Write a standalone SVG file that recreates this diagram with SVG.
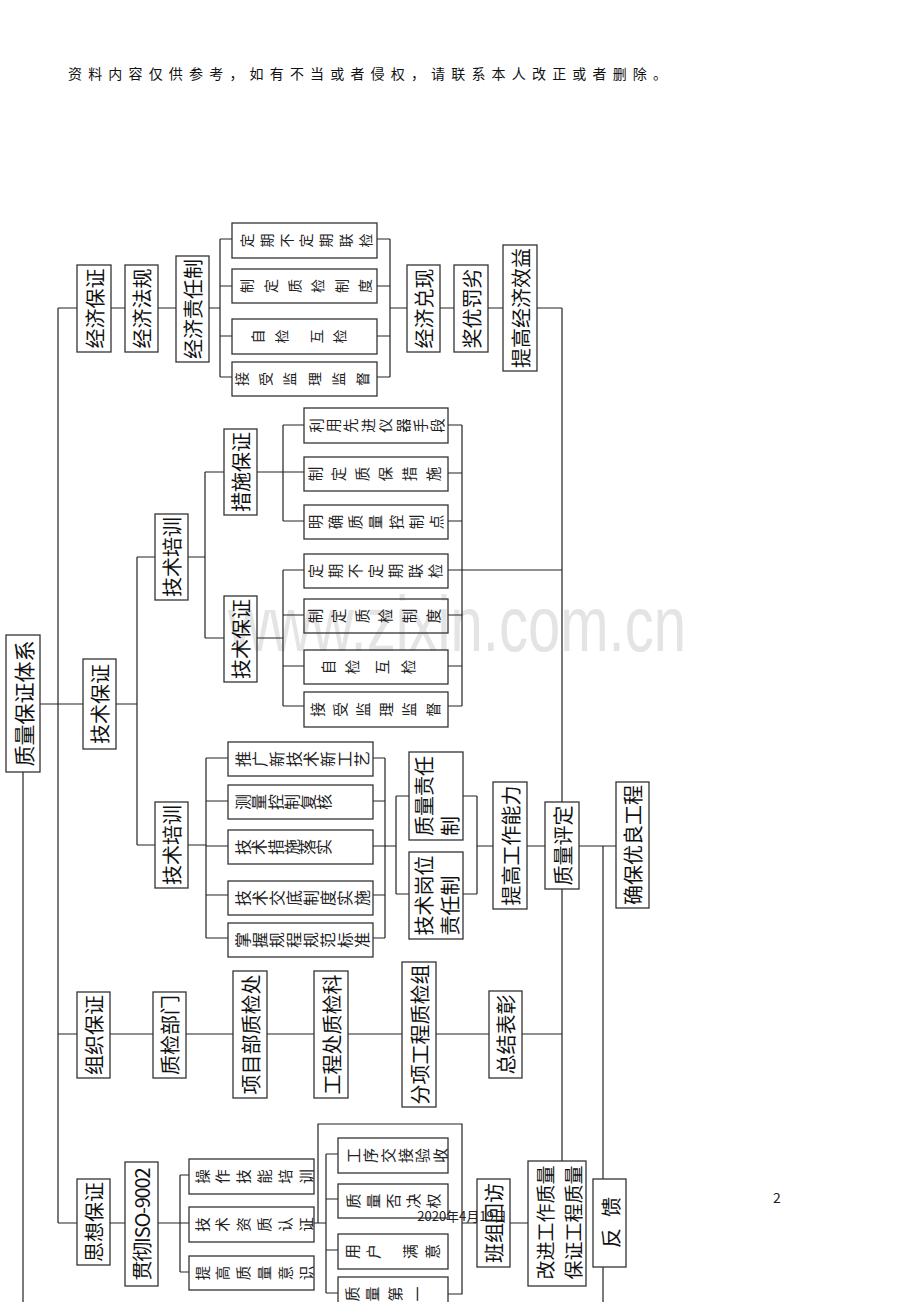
<svg xmlns="http://www.w3.org/2000/svg" width="920" height="1302" viewBox="0 0 920 1302">
<style>
.b{fill:none;stroke:#333;stroke-width:1.3}
.c{fill:none;stroke:#222;stroke-width:1.2}
.tv{font-family:"Noto Sans CJK SC",sans-serif;font-size:20px;fill:#111;text-anchor:middle;dominant-baseline:central}
.ts{font-family:"Noto Sans CJK SC",sans-serif;font-size:20px;fill:#111;text-anchor:start;dominant-baseline:central}
.tw{font-family:"Noto Sans CJK SC",sans-serif;font-size:14px;fill:#222}
.tw5{font-family:"Noto Sans CJK SC",sans-serif;font-size:14.5px;fill:#222}
.tw6{font-family:"Noto Sans CJK SC",sans-serif;font-size:16px;fill:#222}
.tw15{font-family:"Noto Sans CJK SC",sans-serif;font-size:15px;fill:#222}
.hd{font-family:"Noto Sans CJK SC",sans-serif;font-size:14px;fill:#111}
</style>
<rect width="920" height="1302" fill="#fff"/>
<text x="228" y="651" font-family="Liberation Sans,sans-serif" font-size="78" fill="#e4e4e4" textLength="458" lengthAdjust="spacingAndGlyphs">www.zixin.com.cn</text>
<text class="hd" x="68" y="79" textLength="599">资料内容仅供参考，如有不当或者侵权，请联系本人改正或者删除。</text>

<g id="connectors">
<path class="c" d="M23 772V1302 M40 704H58 M58 308V1223 M58 308H77 M58 704H83 M58 1034H77 M58 1223H77
M111 308H125 M158 308H176 M209 308H220 M220 239V377 M220 239H232 M220 286H232 M220 336H232 M220 377H232
M377 239H390 M377 286H390 M377 336H390 M377 377H390 M390 239V377
M390 308H407 M440 308H454 M488 308H503 M537 308H562 M562 308V802 M562 889V1161
M116 704H137 M137 557V845 M137 557H155 M137 845H155
M188 557H205 M205 472V638 M205 472H224 M205 638H224
M257 472H304 M283 425V521 M283 425H304 M283 521H304
M257 638H283 M283 570V706 M283 570H304 M283 615H304 M283 666H304 M283 706H304
M448 425H462 M448 473H462 M448 521H462 M448 570H562 M448 615H462 M448 666H462 M448 706H462 M462 425V706
M188 845H206 M206 758V938 M206 758H228 M206 801H228 M206 846H228 M206 895H228 M206 938H228
M373 758H385 M373 801H385 M373 846H396 M373 895H385 M373 938H385 M385 758V938
M396 796V894 M396 796H409 M396 894H409 M463 796H477 M463 894H477 M477 796V894 M477 846H493
M527 846H545 M579 846H616 M603 846V1179 M603 1267V1302
M110 1034H153 M186 1034H233 M267 1034H314 M348 1034H402 M436 1034H489 M522 1034H562
M110 1223H125 M158 1223H180 M180 1175V1272 M180 1175H189 M180 1223H189 M180 1272H189
M314 1223H326 M318 1223V1124H462V1294H448
M326 1154V1293 M326 1154H338 M326 1199H338 M326 1250H338 M326 1293H338
M462 1223H477 M510 1223H528"/>
</g>

<g id="n-root"><rect class="b" x="6" y="635" width="34" height="137"/><text class="tv" style="font-size:21px" transform="rotate(-90)" x="-703.5" y="23">质量保证体系</text></g>
<g id="n-jjbz"><rect class="b" x="77" y="265" width="34" height="87"/><text class="tv" transform="rotate(-90)" x="-308.5" y="94">经济保证</text></g>
<g id="n-jjfg"><rect class="b" x="125" y="265" width="33" height="87"/><text class="tv" transform="rotate(-90)" x="-308.5" y="141.5">经济法规</text></g>
<g id="n-jjzrz"><rect class="b" x="176" y="256" width="33" height="106"/><text class="tv" transform="rotate(-90)" x="-309" y="192.5">经济责任制</text></g>
<g id="n-a1"><rect class="b" x="232" y="223" width="145" height="35"/><text class="tw" x="252.3 272 291.7 311.4 331.1 350.8 370.5" y="247.5" rotate="-90">定期不定期联检</text></g>
<g id="n-a2"><rect class="b" x="232" y="269" width="145" height="34"/><text class="tw" x="252.3 275.9 299.5 323.1 346.7 370.3" y="293" rotate="-90">制定质检制度</text></g>
<g id="n-a3"><rect class="b" x="232" y="319" width="145" height="35"/><text class="tw" x="263.3 287.3 322.3 345.3" y="343.5" rotate="-90">自检互检</text></g>
<g id="n-a4"><rect class="b" x="232" y="362" width="145" height="34"/><text class="tw" x="247.3 271.3 295.3 320.3 344.3 368.3" y="386" rotate="-90">接受监理监督</text></g>
<g id="n-jjdx"><rect class="b" x="407" y="265" width="33" height="87"/><text class="tv" transform="rotate(-90)" x="-308.5" y="423.5">经济兑现</text></g>
<g id="n-jylr"><rect class="b" x="454" y="265" width="34" height="87"/><text class="tv" transform="rotate(-90)" x="-308.5" y="471">奖优罚劣</text></g>
<g id="n-tgjjxy"><rect class="b" x="503" y="245" width="34" height="126"/><text class="tv" transform="rotate(-90)" x="-308" y="520">提高经济效益</text></g>

<g id="n-jsbz"><rect class="b" x="83" y="659" width="33" height="90"/><text class="tv" transform="rotate(-90)" x="-704" y="99.5">技术保证</text></g>
<g id="n-jspx1"><rect class="b" x="155" y="514" width="33" height="86"/><text class="tv" transform="rotate(-90)" x="-557" y="171.5">技术培训</text></g>
<g id="n-csbz"><rect class="b" x="224" y="429" width="33" height="86"/><text class="tv" transform="rotate(-90)" x="-472" y="240.5">措施保证</text></g>
<g id="n-b1"><rect class="b" x="304" y="408" width="144" height="35"/><text class="tw5" x="321.5 338.9 356.3 373.7 391.1 408.5 425.9 443.3" y="432.75" rotate="-90">利用先进仪器手段</text></g>
<g id="n-b2"><rect class="b" x="304" y="457" width="144" height="34"/><text class="tw5" x="320.5 344.1 367.7 391.3 414.9 438.5" y="481.25" rotate="-90">制定质保措施</text></g>
<g id="n-b3"><rect class="b" x="304" y="505" width="144" height="34"/><text class="tw5" x="320.5 340.8 361.1 381.4 401.7 422 442.3" y="529.25" rotate="-90">明确质量控制点</text></g>
<g id="n-jsbz2"><rect class="b" x="224" y="596" width="33" height="86"/><text class="tv" transform="rotate(-90)" x="-639" y="240.5">技术保证</text></g>
<g id="n-c1"><rect class="b" x="304" y="554" width="144" height="34"/><text class="tw5" x="320.5 340.5 360.5 380.5 400.5 420.5 440.5" y="578.25" rotate="-90">定期不定期联检</text></g>
<g id="n-c2"><rect class="b" x="304" y="599" width="144" height="34"/><text class="tw5" x="320.5 344.1 367.7 391.3 414.9 438.5" y="623.25" rotate="-90">制定质检制度</text></g>
<g id="n-c3"><rect class="b" x="304" y="650" width="144" height="34"/><text class="tw5" x="333.5 357.5 387.5 413.5" y="674.25" rotate="-90">自检互检</text></g>
<g id="n-c4"><rect class="b" x="304" y="692" width="144" height="35"/><text class="tw5" x="322.5 345.7 368.9 392.1 415.3 438.5" y="716.75" rotate="-90">接受监理监督</text></g>

<g id="n-jspx2"><rect class="b" x="155" y="802" width="33" height="86"/><text class="tv" transform="rotate(-90)" x="-845" y="171.5">技术培训</text></g>
<g id="n-d1"><rect class="b" x="228" y="742" width="145" height="34"/><text class="tw6" x="249.1 266.1 283.1 300.1 317.1 334.1 351.1 368.1" y="767" rotate="-90">推广新技术新工艺</text></g>
<g id="n-d2"><rect class="b" x="228" y="785" width="145" height="34"/><text class="tw6" x="249.1 265.3 281.5 297.7 313.9 330.1" y="810" rotate="-90">测量控制复核</text></g>
<g id="n-d3"><rect class="b" x="228" y="830" width="145" height="34"/><text class="tw6" x="249.1 265.3 281.5 297.7 313.9 330.1" y="855" rotate="-90">技术措施落实</text></g>
<g id="n-d4"><rect class="b" x="228" y="881" width="145" height="34"/><text class="tw6" x="249.1 266.1 283.1 300.1 317.1 334.1 351.1 368.1" y="906" rotate="-90">技术交底制度实施</text></g>
<g id="n-d5"><rect class="b" x="228" y="923" width="145" height="34"/><text class="tw6" x="249.1 266.1 283.1 300.1 317.1 334.1 351.1 368.1" y="948" rotate="-90">掌握规程规范标准</text></g>
<g id="n-zlzrz"><rect class="b" x="409" y="752" width="54" height="88"/><text class="ts" transform="rotate(-90)" x="-836" y="423">质量责任</text><text class="ts" transform="rotate(-90)" x="-836" y="449">制</text></g>
<g id="n-jsgw"><rect class="b" x="409" y="852" width="54" height="87"/><text class="ts" transform="rotate(-90)" x="-935.5" y="423">技术岗位</text><text class="ts" transform="rotate(-90)" x="-935.5" y="449">责任制</text></g>
<g id="n-tggznl"><rect class="b" x="493" y="782" width="34" height="127"/><text class="tv" transform="rotate(-90)" x="-845.5" y="510">提高工作能力</text></g>
<g id="n-zlpd"><rect class="b" x="545" y="802" width="34" height="87"/><text class="tv" transform="rotate(-90)" x="-845.5" y="562">质量评定</text></g>
<g id="n-qbylgc"><rect class="b" x="616" y="782" width="33" height="126"/><text class="tv" transform="rotate(-90)" x="-845" y="632.5">确保优良工程</text></g>

<g id="n-zzbz"><rect class="b" x="77" y="992" width="33" height="86"/><text class="tv" transform="rotate(-90)" x="-1035" y="93.5">组织保证</text></g>
<g id="n-zjbm"><rect class="b" x="153" y="992" width="33" height="86"/><text class="tv" transform="rotate(-90)" x="-1035" y="169.5">质检部门</text></g>
<g id="n-xmb"><rect class="b" x="233" y="971" width="34" height="127"/><text class="tv" transform="rotate(-90)" x="-1034.5" y="250">项目部质检处</text></g>
<g id="n-gcc"><rect class="b" x="314" y="971" width="34" height="127"/><text class="tv" transform="rotate(-90)" x="-1034.5" y="331">工程处质检科</text></g>
<g id="n-fxgc"><rect class="b" x="402" y="962" width="34" height="145"/><text class="tv" transform="rotate(-90)" x="-1034.5" y="419">分项工程质检组</text></g>
<g id="n-zjbz"><rect class="b" x="489" y="991" width="33" height="87"/><text class="tv" transform="rotate(-90)" x="-1034.5" y="505.5">总结表彰</text></g>

<g id="n-sxbz"><rect class="b" x="77" y="1179" width="33" height="86"/><text class="tv" transform="rotate(-90)" x="-1222" y="93.5">思想保证</text></g>
<g id="n-iso"><rect class="b" x="125" y="1162" width="33" height="124"/><text class="tv" transform="rotate(-90)" x="-1224" y="141.5" textLength="113">贯彻ISO-9002</text></g>
<g id="n-e1"><rect class="b" x="189" y="1159" width="125" height="35"/><text class="tw5" x="207.5 228.3 249.1 269.9 290.7 311.5" y="1183.75" rotate="-90">操作技能培训</text></g>
<g id="n-e2"><rect class="b" x="189" y="1207" width="125" height="35"/><text class="tw5" x="207.5 228.3 249.1 269.9 290.7 311.5" y="1231.75" rotate="-90">技术资质认证</text></g>
<g id="n-e3"><rect class="b" x="189" y="1256" width="125" height="34"/><text class="tw5" x="207.5 228.3 249.1 269.9 290.7 311.5" y="1280.25" rotate="-90">提高质量意识</text></g>
<g id="n-f1"><rect class="b" x="338" y="1138" width="110" height="35"/><text class="tw15" x="358.7 376.1 393.5 410.9 428.3 445.7" y="1163" rotate="-90">工序交接验收</text></g>
<g id="n-f2"><rect class="b" x="338" y="1184" width="110" height="34"/><text class="tw15" x="358.7 378.7 398.7 418.7 438.7" y="1208.5" rotate="-90">质量否决权</text></g>
<g id="n-f3"><rect class="b" x="338" y="1234" width="110" height="35"/><text class="tw15" x="357.7 378.7 415.7 437.7" y="1259" rotate="-90">用户满意</text></g>
<g id="n-f4"><rect class="b" x="338" y="1277" width="110" height="34"/><text class="tw15" x="357.7 377.7 400.7 422.7" y="1301.5" rotate="-90">质量第一</text></g>
<g id="n-bzhf"><rect class="b" x="477" y="1179" width="33" height="88"/><text class="tv" transform="rotate(-90)" x="-1223" y="493.5">班组回访</text></g>
<g id="n-gj"><rect class="b" x="528" y="1161" width="58" height="125"/><text class="tv" style="font-size:19px" transform="rotate(-90)" x="-1222.5" y="544">改进工作质量</text><text class="tv" style="font-size:19px" transform="rotate(-90)" x="-1222.5" y="572">保证工程质量</text></g>
<g id="n-fk"><rect class="b" x="593" y="1179" width="33" height="88"/><text class="tv" transform="rotate(-90)" x="-1238 -1207" y="610">反馈</text></g>

<text x="462" y="1221" font-family="Noto Sans CJK SC,sans-serif" font-size="13" fill="#222" text-anchor="middle">2020年4月19日</text>
<text x="777" y="1203" font-family="Noto Sans CJK SC,sans-serif" font-size="14" fill="#222" text-anchor="middle">2</text>
</svg>
